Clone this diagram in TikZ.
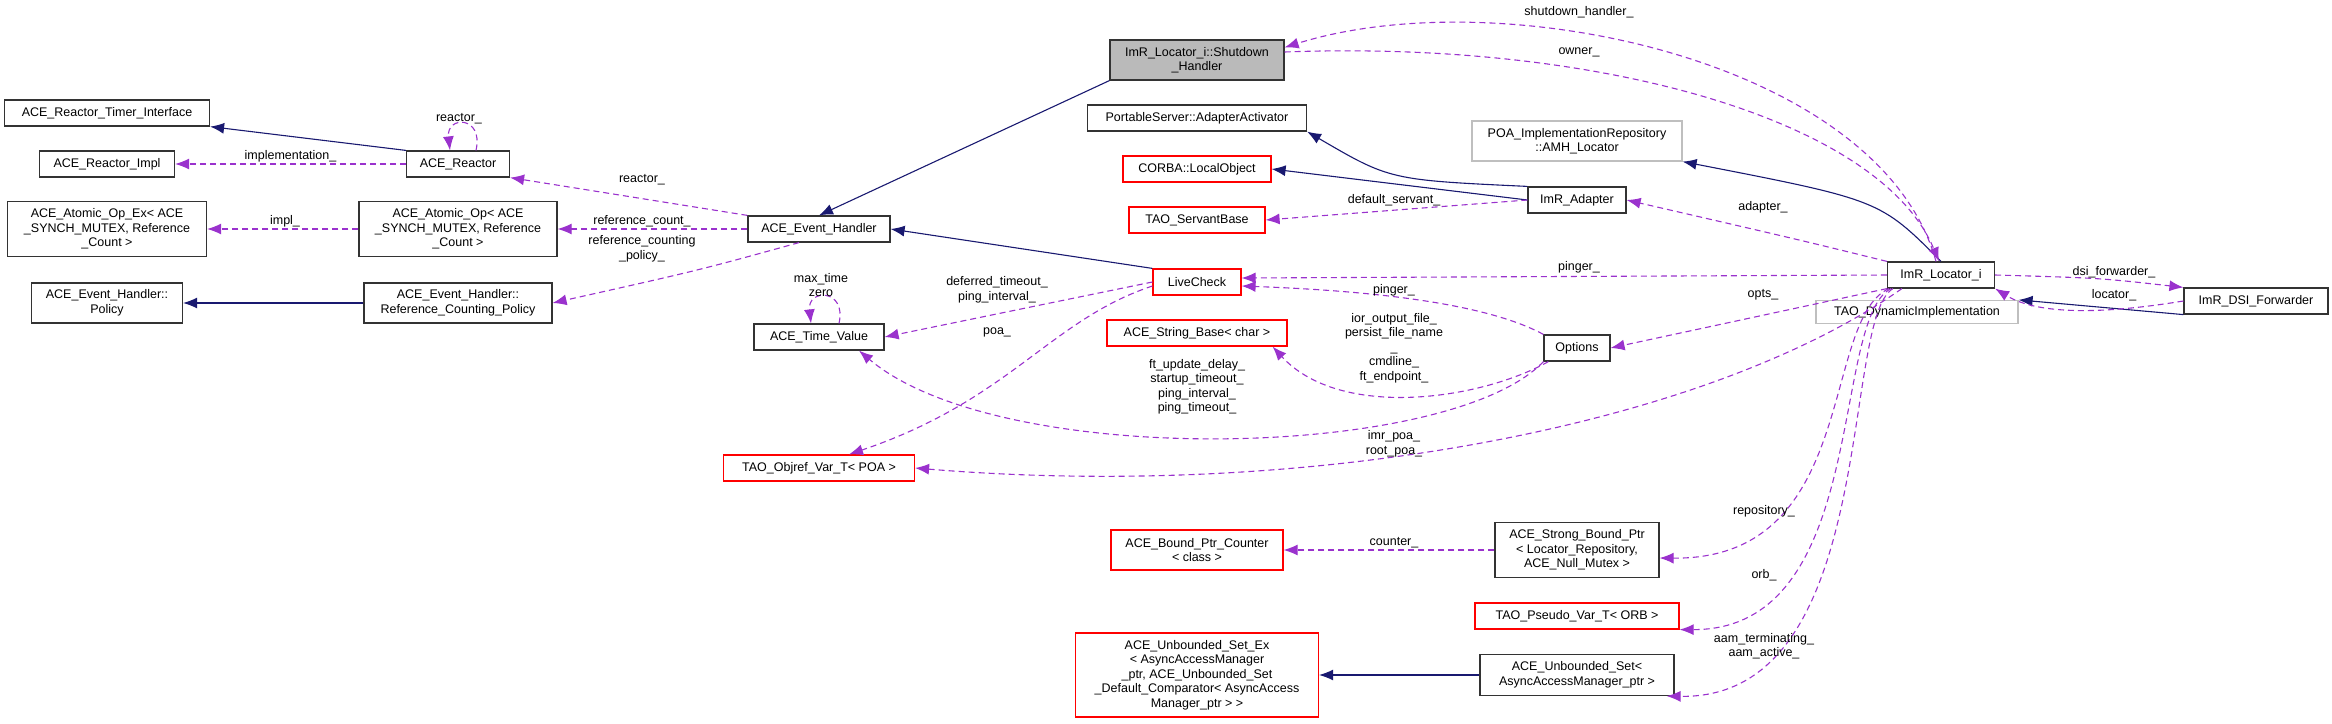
\documentclass[tikz,border=0pt]{standalone}
\usepackage{fontspec}
\setmainfont{Liberation Sans}
\usetikzlibrary{arrows.meta}
\definecolor{inhcol}{HTML}{191970}
\definecolor{usecol}{HTML}{9A32CD}
\tikzset{
  cls/.style={draw=black!80, line width=1.2pt, inner sep=2pt, align=center, font=\fontsize{12.5}{14.5}\selectfont},
  ext/.style={cls, draw=black!25},
  redcls/.style={cls, draw=red},
  cur/.style={cls, fill=black!27},
  lbl/.style={align=center, inner sep=0pt, font=\fontsize{12.5}{14.5}\selectfont},
  inh/.style={draw=inhcol, line width=1.1pt, -{Latex[length=14pt,width=11pt]}},
  use/.style={draw=usecol, line width=1.1pt, dashed, dash pattern=on 6pt off 4pt, -{Latex[length=14pt,width=11pt]}}
}
\begin{document}
\begin{tikzpicture}[x=1pt,y=-1pt]
\useasboundingbox (0,0) rectangle (2332,723);
% classes
\node[cls, minimum width=205, minimum height=26] (timerif) at (107,113) {ACE\_Reactor\_Timer\_Interface};
\node[cls, minimum width=135, minimum height=26] (rimpl) at (107,164) {ACE\_Reactor\_Impl};
\node[cls, minimum width=103, minimum height=26] (reactor) at (458,164) {ACE\_Reactor};
\node[cls, minimum width=199, minimum height=55] (aopex) at (107,229) {ACE\_Atomic\_Op\_Ex< ACE\\\_SYNCH\_MUTEX, Reference\\\_Count >};
\node[cls, minimum width=198, minimum height=55] (aop) at (458,229) {ACE\_Atomic\_Op< ACE\\\_SYNCH\_MUTEX, Reference\\\_Count >};
\node[cls, minimum width=151, minimum height=40] (policy) at (107,303) {ACE\_Event\_Handler::\\Policy};
\node[cls, minimum width=188, minimum height=40] (rcpolicy) at (458,303) {ACE\_Event\_Handler::\\Reference\_Counting\_Policy};
\node[cls, minimum width=142, minimum height=26] (evh) at (819,229) {ACE\_Event\_Handler};
\node[cls, minimum width=130, minimum height=26] (tval) at (819,337) {ACE\_Time\_Value};
\node[redcls, minimum width=191, minimum height=26] (objref) at (819,468) {TAO\_Objref\_Var\_T< POA >};
\node[cur, minimum width=174, minimum height=40] (shutdown) at (1197,60) {ImR\_Locator\_i::Shutdown\\\_Handler};
\node[cls, minimum width=219, minimum height=26] (activator) at (1197,118) {PortableServer::AdapterActivator};
\node[redcls, minimum width=148, minimum height=26] (localobj) at (1197,169) {CORBA::LocalObject};
\node[redcls, minimum width=136, minimum height=26] (servant) at (1197,220) {TAO\_ServantBase};
\node[redcls, minimum width=88, minimum height=26] (live) at (1197,282) {LiveCheck};
\node[redcls, minimum width=180, minimum height=26] (strbase) at (1197,333) {ACE\_String\_Base< char >};
\node[redcls, minimum width=172, minimum height=40] (counter) at (1197,550) {ACE\_Bound\_Ptr\_Counter\\< class >};
\node[redcls, minimum width=243, minimum height=84] (usetex) at (1197,675) {ACE\_Unbounded\_Set\_Ex\\< AsyncAccessManager\\\_ptr, ACE\_Unbounded\_Set\\\_Default\_Comparator< AsyncAccess\\Manager\_ptr > >};
\node[ext, minimum width=210, minimum height=40] (amh) at (1577,141) {POA\_ImplementationRepository\\::AMH\_Locator};
\node[cls, minimum width=98, minimum height=26] (adapter) at (1577,200) {ImR\_Adapter};
\node[cls, minimum width=66, minimum height=26] (opts) at (1577,348) {Options};
\node[cls, minimum width=164, minimum height=55] (strongptr) at (1577,550) {ACE\_Strong\_Bound\_Ptr\\< Locator\_Repository,\\ACE\_Null\_Mutex >};
\node[redcls, minimum width=204, minimum height=26] (pseudo) at (1577,616) {TAO\_Pseudo\_Var\_T< ORB >};
\node[cls, minimum width=194, minimum height=41] (uset) at (1577,675) {ACE\_Unbounded\_Set<\\AsyncAccessManager\_ptr >};
\node[cls, minimum width=107, minimum height=26] (locator) at (1941,275) {ImR\_Locator\_i};
\node[ext, minimum width=202, minimum height=23] (dynimpl) at (1917,312) {TAO\_DynamicImplementation};
\node[cls, minimum width=144, minimum height=26] (dsi) at (2256,301) {ImR\_DSI\_Forwarder};

% inheritance
\path[inh] (reactor.north west) -- (timerif.south east);
\path[inh] (rcpolicy) -- (policy);
\path[inh] (shutdown.south west) -- (evh.north);
\path[inh] (live.north west) -- (evh.east);
\path[inh] (adapter.north west) .. controls (1390,180) .. (activator.south east);
\path[inh] (adapter.west) -- (localobj.east);
\path[inh] (locator.north) .. controls (1880,200) .. (amh.south east);
\path[inh] (dsi.south west) -- (dynimpl.north east);
\path[inh] (uset) -- (usetex);

% members
\path[use] (reactor) -- node[lbl, above=1pt] (limpl) {implementation\_} (rimpl);
\path[use] ([xshift=18pt]reactor.north) .. controls +(8pt,35pt) and +(-4pt,35pt) .. ([xshift=-8pt]reactor.north);
\node[lbl] (lreactor) at (459,119) {reactor\_};
\path[use] (evh.north west) -- (reactor.south east);
\node[lbl] (lreactor2) at (642,180) {reactor\_};
\path[use] (evh.west) -- (aop.east);
\node[lbl] (lrefcount) at (642,221) {reference\_count\_};
\path[use] (aop.west) -- (aopex.east);
\node[lbl] (limplb) at (285,221) {impl\_};
\path[use] ([xshift=-20pt]evh.south) .. controls (700,270) .. (rcpolicy.east);
\node[lbl] (lrcp) at (642,249) {reference\_counting\\\_policy\_};
\path[use] ([xshift=20pt]tval.north) .. controls +(8pt,35pt) and +(-4pt,35pt) .. ([xshift=-8pt]tval.north);
\node[lbl] (lzero) at (821,285) {max\_time\\zero};
\path[use] (live.west) -- (tval.east);
\node[lbl] (ldeferred) at (997,290) {deferred\_timeout\_\\ping\_interval\_};
\path[use] ([yshift=-4pt]live.west) .. controls (1050,320) and (1010,400) .. ([xshift=30pt]objref.north);
\node[lbl] (lpoa) at (997,332) {poa\_};
\path[use] (opts.south west) .. controls (1450,460) and (1000,470) .. ([xshift=40pt]tval.south);
\node[lbl] (lft) at (1197,387) {ft\_update\_delay\_\\startup\_timeout\_\\ping\_interval\_\\ping\_timeout\_};
\path[use] ([xshift=5pt]opts.south west) .. controls (1480,400) and (1340,420) .. ([xshift=-15pt]strbase.south east);
\node[lbl] (lior) at (1394,348) {ior\_output\_file\_\\persist\_file\_name\\\_\\cmdline\_\\ft\_endpoint\_};
\path[use] (opts.north west) .. controls (1480,300) and (1350,290) .. ([yshift=-4pt]live.east);
\node[lbl] (lpinger2) at (1394,290) {pinger\_};
\path[use] (locator.west) -- ([yshift=4pt]live.east);
\node[lbl] (lpinger) at (1579,267) {pinger\_};
\path[use] (locator.south west) -- (opts.east);
\node[lbl] (lopts) at (1763,295) {opts\_};
\path[use] ([xshift=15pt]locator.south west) .. controls (1700,430) and (1300,500) .. (objref.east);
\node[lbl] (limrpoa) at (1394,444) {imr\_poa\_\\root\_poa\_};
\path[use] (locator.north west) .. controls (1800,240) .. (adapter.east);
\node[lbl] (ladapter) at (1763,207) {adapter\_};
\path[use] (adapter.west) -- (servant.east);
\node[lbl] (lservant) at (1394,200) {default\_servant\_};
\path[use] ([xshift=-5pt]locator.north) .. controls (1880,60) and (1500,-20) .. ([yshift=-8pt]shutdown.north east);
\node[lbl] (lshutdown) at (1579,12) {shutdown\_handler\_};
\path[use] ([yshift=8pt]shutdown.east) .. controls (1600,40) and (1880,120) .. ([xshift=-2pt]locator.north);
\node[lbl] (lowner) at (1579,52) {owner\_};
\path[use] (locator.east) .. controls (2100,278) .. (dsi.north west);
\node[lbl] (ldsi) at (2114,272) {dsi\_forwarder\_};
\path[use] (dsi.west) .. controls (2080,318) and (2030,310) .. (locator.south east);
\node[lbl] (llocator) at (2114,295) {locator\_};
\path[use] ([xshift=2pt]locator.south west) .. controls (1820,320) and (1860,560) .. ([yshift=-8pt]strongptr.east);
\node[lbl] (lrepo) at (1764,511) {repository\_};
\path[use] ([xshift=4pt]locator.south west) .. controls (1830,320) and (1870,630) .. (pseudo.south east);
\node[lbl] (lorb) at (1764,575) {orb\_};
\path[use] ([xshift=6pt]locator.south west) .. controls (1840,320) and (1880,700) .. ([xshift=-8pt]uset.south east);
\node[lbl] (laam) at (1764,646) {aam\_terminating\_\\aam\_active\_};
\path[use] (strongptr) -- (counter);
\node[lbl] (lcounter) at (1394,543) {counter\_};
\end{tikzpicture}
\end{document}
